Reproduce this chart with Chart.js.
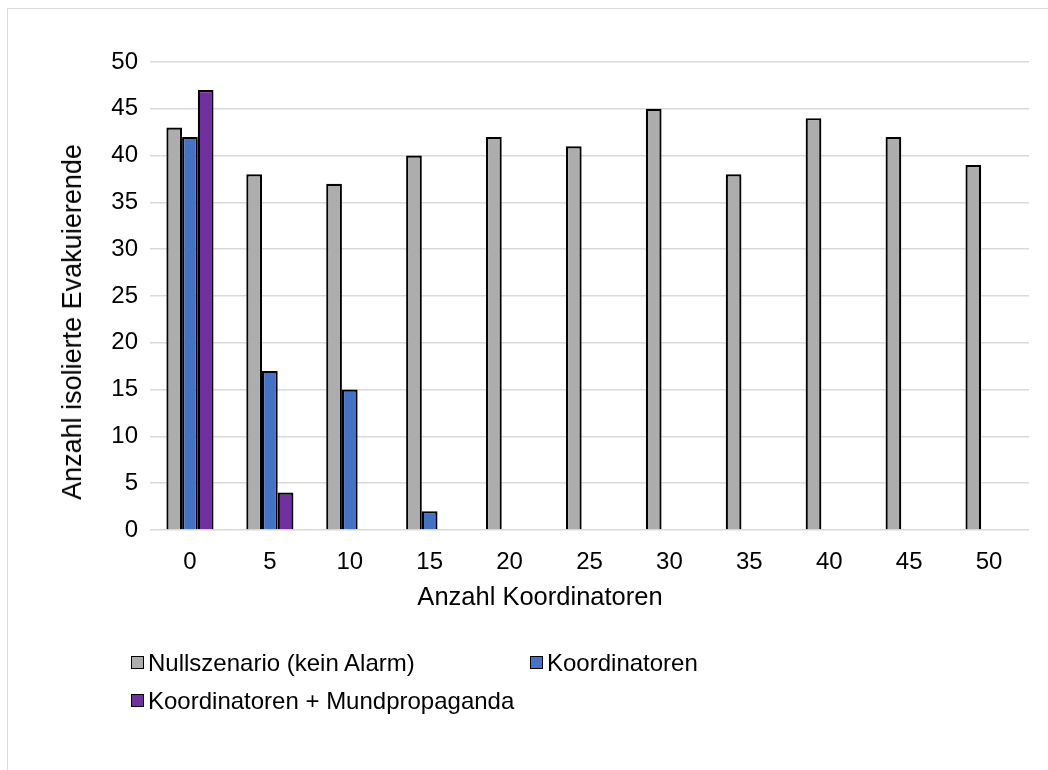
<!DOCTYPE html>
<html lang="de">
<head>
<meta charset="utf-8">
<script src="https://cdn.jsdelivr.net/npm/chart.js@4/dist/chart.umd.min.js"></script>
<style>
  html, body { margin: 0; padding: 0; background: #fff; }
  #wrap { position: relative; width: 1048px; height: 770px; overflow: hidden; font-family: "Liberation Sans", Arial, sans-serif; }
  #frame { position: absolute; left: 7px; top: 8px; width: 1100px; height: 900px; border-left: 1px solid #d9d9d9; border-top: 1px solid #d9d9d9; }
  canvas { position: absolute; left: 0; top: 0; }
  .leg { position: absolute; font-size: 24px; color: #000; white-space: nowrap; line-height: 28px; }
  .leg i { position: absolute; left: 0; top: 7px; width: 11px; height: 11px; border: 1.5px solid #000; }
  .leg span { position: absolute; left: 17px; top: 0; }
  .title { position: absolute; color: #000; white-space: nowrap; line-height: 30px; }
  #ytitle { left: 72px; top: 322px; font-size: 27px; transform: translate(-50%, -50%) rotate(-90deg); }
  #xtitle { left: 540px; top: 596px; font-size: 25.5px; transform: translate(-50%, -50%); }
</style>
</head>
<body>
<div id="wrap">
  <div id="frame"></div>
  <canvas id="c" width="1048" height="770"></canvas>
  <div class="title" id="ytitle">Anzahl isolierte Evakuierende</div>
  <div class="title" id="xtitle">Anzahl Koordinatoren</div>
  <div id="legend"></div>
</div>
<script>
const categories = ['0', '5', '10', '15', '20', '25', '30', '35', '40', '45', '50'];
const nullszenario = [43, 38, 37, 40, 42, 41, 45, 38, 44, 42, 39];
const koordinatoren = [42, 17, 15, 2, null, null, null, null, null, null, null];
const mundpropaganda = [47, 4, null, null, null, null, null, null, null, null, null];
const yTicks = [0, 5, 10, 15, 20, 25, 30, 35, 40, 45, 50];

const seriesNames = ['Nullszenario (kein Alarm)', 'Koordinatoren', 'Koordinatoren + Mundpropaganda'];
const seriesColors = ['#adadad', '#4472c4', '#7030a0'];
const seriesData = [nullszenario, koordinatoren, mundpropaganda];

const font = 'Liberation Sans';

new Chart(document.getElementById('c'), {
  type: 'bar',
  data: {
    labels: categories,
    datasets: seriesData.map((d, i) => ({
      label: seriesNames[i],
      data: d,
      backgroundColor: seriesColors[i],
      borderColor: '#000',
      borderWidth: 2.2,
      categoryPercentage: 0.59,
      barPercentage: 1.0
    }))
  },
  options: {
    responsive: false,
    animation: false,
    layout: { padding: { left: 0, right: 19, top: 62, bottom: 150 } },
    plugins: { legend: { display: false }, tooltip: { enabled: false } },
    scales: {
      x: {
        grid: { display: false },
        border: { display: false },
        ticks: { color: '#000', font: { family: font, size: 24 }, padding: 10 },
        title: { display: false },
        afterFit: s => { s.height = 90; }
      },
      y: {
        min: 0, max: 50,
        afterBuildTicks: s => { s.ticks = yTicks.map(v => ({ value: v })); },
        grid: { color: '#d9d9d9', lineWidth: 1.5, drawTicks: false },
        border: { display: false },
        ticks: { color: '#000', font: { family: font, size: 24 }, padding: 12 },
        title: { display: false },
        afterFit: s => { s.width = 150; }
      }
    }
  }
});

// Legend laid out in two columns below the plot
const legendPos = [[131, 649], [530, 649], [131, 687]];
const legendEl = document.getElementById('legend');
seriesNames.forEach((name, i) => {
  const d = document.createElement('div');
  d.className = 'leg';
  d.style.left = legendPos[i][0] + 'px';
  d.style.top = legendPos[i][1] + 'px';
  const box = document.createElement('i');
  box.style.background = seriesColors[i];
  const txt = document.createElement('span');
  txt.textContent = name;
  d.appendChild(box);
  d.appendChild(txt);
  legendEl.appendChild(d);
});
</script>
</body>
</html>
